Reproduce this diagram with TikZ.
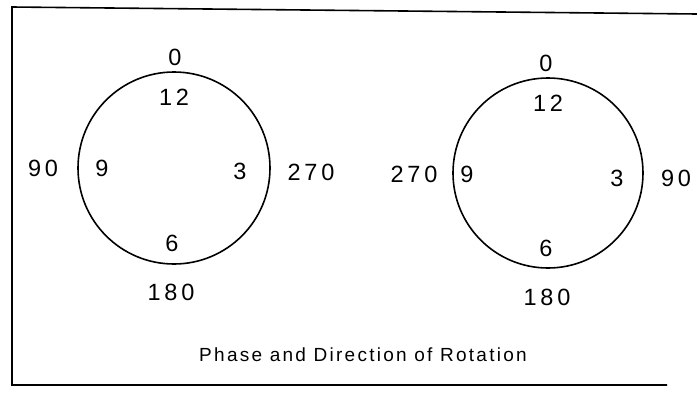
\documentclass[tikz,border=0pt]{standalone}
\usepackage{fontspec}
\setmainfont{Liberation Sans}
\newfontfamily\spaced[LetterSpace=16]{Liberation Sans}
\newfontfamily\capfont[LetterSpace=12]{Liberation Sans}
\begin{document}
\begin{tikzpicture}[x=1pt,y=-1pt,
  lbl/.style={font=\spaced\fontsize{23.5}{25}\selectfont, inner sep=0pt},
  captext/.style={font=\capfont\fontsize{19}{21}\selectfont, inner sep=0pt},
  ring/.style={draw, line width=1.6pt},
  framestyle/.style={line width=1.6pt}]
\useasboundingbox (0,0) rectangle (697,397);
% frame
\coordinate (tl) at (12,7);
\coordinate (tr) at (697,14);
\coordinate (bl) at (12,385);
\coordinate (br) at (667,385);
\draw[framestyle] (tr) -- (tl) -- (bl) -- (br);
% left dial
\node[ring, circle, minimum size=192pt, inner sep=0pt] (cL) at (174,168) {};
\node[lbl] (L0) at (175,57) {0};
\node[lbl] (L12) at (174,97) {12};
\node[lbl] (L90) at (43,168) {90};
\node[lbl] (L9) at (102,168) {9};
\node[lbl] (L3) at (240,171) {3};
\node[lbl] (L270) at (311,172) {270};
\node[lbl] (L6) at (172,243) {6};
\node[lbl] (L180) at (171,292) {180};
% right dial
\node[ring, circle, minimum size=190pt, inner sep=0pt] (cR) at (548,173) {};
\node[lbl] (R0) at (546,63) {0};
\node[lbl] (R12) at (548,103) {12};
\node[lbl] (R270) at (414,174) {270};
\node[lbl] (R9) at (467,174) {9};
\node[lbl] (R3) at (617,178) {3};
\node[lbl] (R90) at (676,178) {90};
\node[lbl] (R6) at (546,248) {6};
\node[lbl] (R180) at (547,297) {180};
% caption
\node[captext] (caption) at (363,355) {Phase and Direction of Rotation};
\end{tikzpicture}
\end{document}
